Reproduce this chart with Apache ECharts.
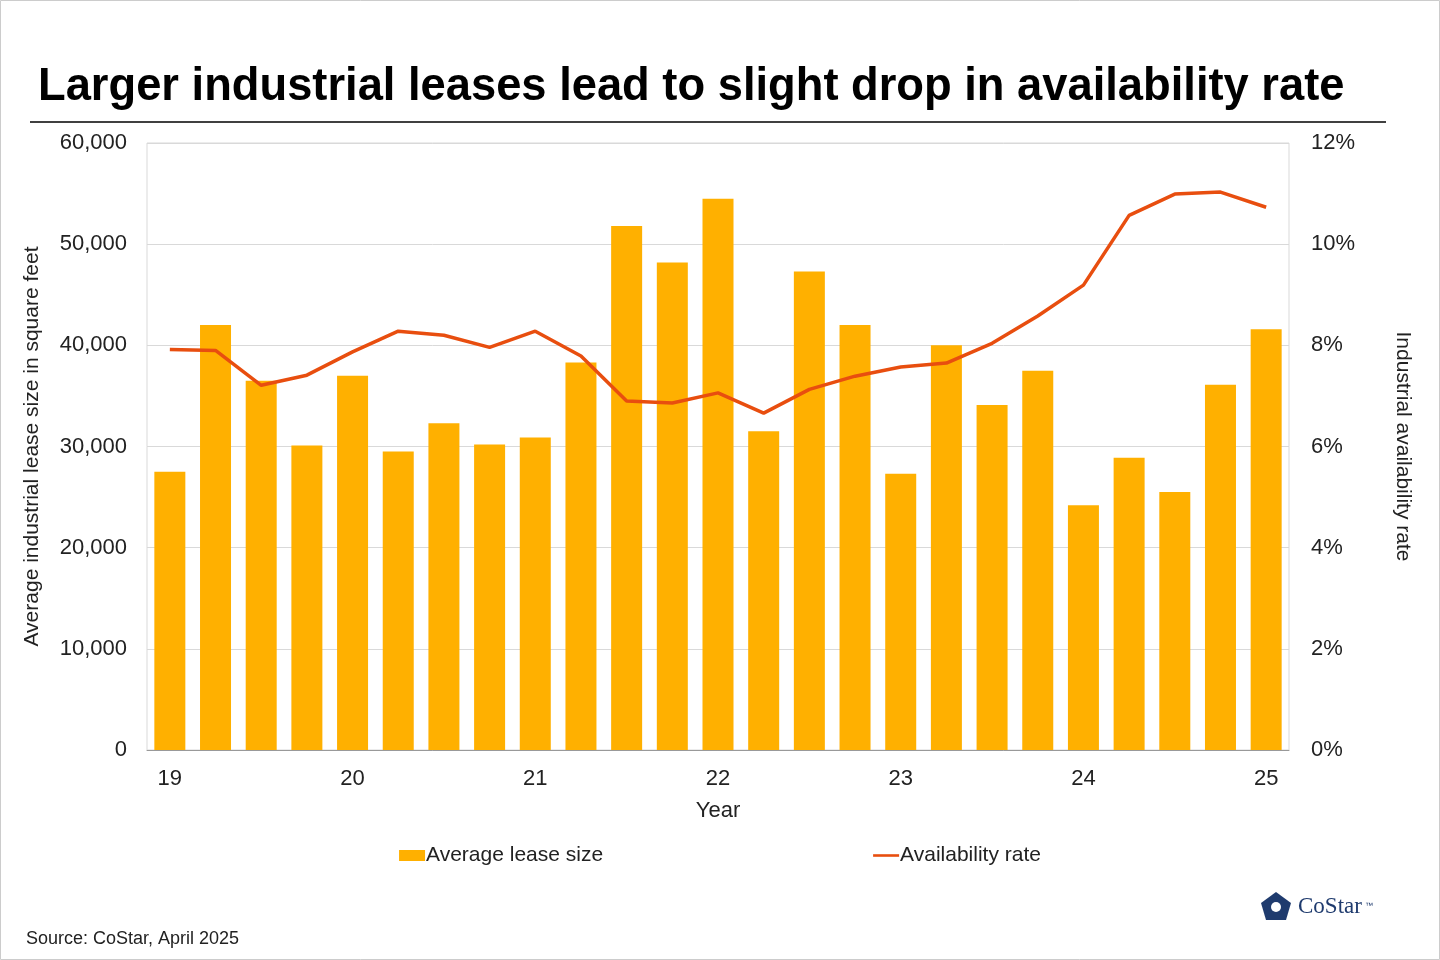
<!DOCTYPE html>
<html>
<head>
<meta charset="utf-8">
<script src="https://cdn.jsdelivr.net/npm/echarts@6/dist/echarts.min.js"></script>
<style>
  html, body { margin: 0; padding: 0; background: #fff; }
  #chart { width: 1440px; height: 960px; }
</style>
</head>
<body>
<div id="chart"></div>
<script>
const quarters = [
  '19 Q1', '19 Q2', '19 Q3', '19 Q4',
  '20 Q1', '20 Q2', '20 Q3', '20 Q4',
  '21 Q1', '21 Q2', '21 Q3', '21 Q4',
  '22 Q1', '22 Q2', '22 Q3', '22 Q4',
  '23 Q1', '23 Q2', '23 Q3', '23 Q4',
  '24 Q1', '24 Q2', '24 Q3', '24 Q4',
  '25 Q1'
];
const leaseSize = [
  27500, 42000, 36500, 30100, 37000, 29500, 32300, 30200, 30900, 38300,
  51800, 48200, 54500, 31500, 47300, 42000, 27300, 40000, 34100, 37500,
  24200, 28900, 25500, 36100, 41600
];
const availabilityRate = [
  7.92, 7.9, 7.21, 7.41, 7.87, 8.28, 8.2, 7.96, 8.28, 7.79,
  6.9, 6.86, 7.06, 6.66, 7.13, 7.39, 7.57, 7.65, 8.04, 8.58,
  9.19, 10.57, 10.99, 11.03, 10.73
];

const font = '"Liberation Sans", Arial, sans-serif';
const textColor = '#222';

const chart = echarts.init(document.getElementById('chart'));

chart.setOption({
  backgroundColor: '#fff',
  textStyle: { fontFamily: font },
  animation: false,
  title: {
    text: 'Larger industrial leases lead to slight drop in availability rate',
    left: 33,
    top: 60,
    textStyle: { fontSize: 45.3, fontWeight: 'bold', color: '#000', fontFamily: font }
  },
  graphic: [
    { type: 'line', shape: { x1: 30, y1: 122, x2: 1386, y2: 122 }, style: { stroke: '#000', lineWidth: 1.5 } },
    { type: 'rect', shape: { x: 0.5, y: 0.5, width: 1439, height: 959 }, style: { fill: 'none', stroke: '#ccc', lineWidth: 1 } },
    { type: 'text', left: 26, top: 930, style: { text: 'Source: CoStar, April 2025', fontSize: 18, fill: textColor, fontFamily: font } },
    { type: 'text', left: 1298, top: 895, style: { text: 'CoStar', fontSize: 23, fill: '#1f3b6e', fontFamily: '"Liberation Serif", serif' } },
    { type: 'text', left: 1365, top: 902, style: { text: '™', fontSize: 8, fill: '#1f3b6e', fontFamily: font } },
    { type: 'polygon', shape: { points: [[1276, 892], [1291, 903], [1286, 920], [1266, 920], [1261, 903]] }, style: { fill: '#1f3b6e' } },
    { type: 'circle', shape: { cx: 1276, cy: 907, r: 5 }, style: { fill: '#fff' } }
  ],
  legend: {
    top: 840,
    left: 'center',
    itemGap: 270,
    itemWidth: 26,
    itemHeight: 11,
    textStyle: { fontSize: 21, color: textColor, fontFamily: font, padding: [0, 0, 0, -4] },
    data: [
      { name: 'Average lease size', icon: 'rect' },
      { name: 'Availability rate', icon: 'path://M0,4 L30,4 L30,7 L0,7 Z' }
    ]
  },
  grid: { left: 147, right: 151, top: 143, bottom: 210, show: true, borderColor: '#d9d9d9', borderWidth: 1 },
  xAxis: {
    type: 'category',
    data: quarters,
    name: 'Year',
    nameLocation: 'middle',
    nameGap: 50,
    nameTextStyle: { fontSize: 22, color: textColor },
    axisLine: { lineStyle: { color: '#999' } },
    axisTick: { interval: 3, length: 6, lineStyle: { color: '#999' } },
    axisLabel: {
      interval: 3, fontSize: 22, color: textColor, margin: 18,
      formatter: v => v.split(' ')[0]
    }
  },
  yAxis: [
    {
      type: 'value', min: 0, max: 60000, interval: 10000,
      name: 'Average industrial lease size in square feet',
      nameLocation: 'middle', nameGap: 104,
      nameTextStyle: { fontSize: 21, color: textColor },
      axisLine: { show: false }, axisTick: { show: false },
      splitLine: { lineStyle: { color: '#d9d9d9' } },
      axisLabel: { fontSize: 22, color: textColor, margin: 20,
        formatter: v => v.toLocaleString('en-US') }
    },
    {
      type: 'value', min: 0, max: 12, interval: 2,
      name: 'Industrial availability rate',
      nameLocation: 'middle', nameGap: 103, nameRotate: -90,
      nameTextStyle: { fontSize: 21, color: textColor },
      axisLine: { show: false }, axisTick: { show: false },
      splitLine: { show: false },
      axisLabel: { fontSize: 22, color: textColor, margin: 22, formatter: '{value}%' }
    }
  ],
  series: [
    {
      name: 'Average lease size', type: 'bar', data: leaseSize,
      barWidth: 31, itemStyle: { color: '#FFB000' }
    },
    {
      name: 'Availability rate', type: 'line', yAxisIndex: 1, data: availabilityRate,
      showSymbol: false, lineStyle: { color: '#E84E0F', width: 3.5 },
      itemStyle: { color: '#E84E0F' }
    }
  ]
});
</script>
</body>
</html>
